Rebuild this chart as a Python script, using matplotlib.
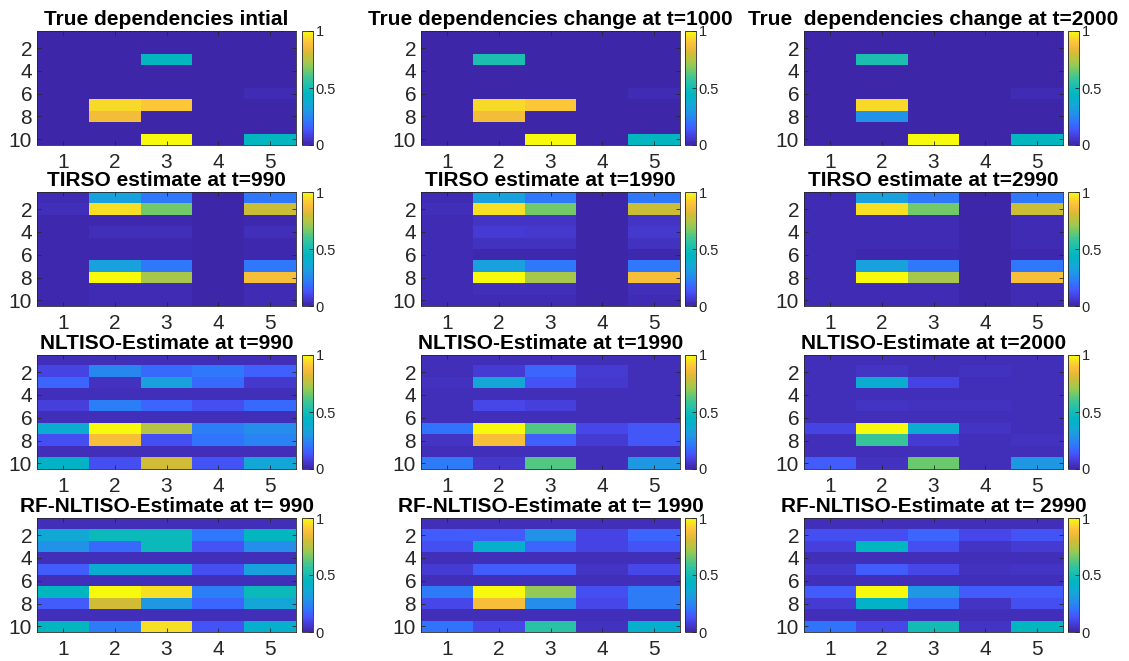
import numpy as np
import matplotlib
matplotlib.use("Agg")
import matplotlib.pyplot as plt
from matplotlib.colors import LinearSegmentedColormap

plt.rcParams['font.family'] = ['Liberation Sans', 'DejaVu Sans']

# parula-like colormap (MATLAB default)
parula_pts = [
    (0.00, (0.2422, 0.1504, 0.6603)),
    (0.05, (0.2691, 0.2113, 0.7795)),
    (0.10, (0.2803, 0.2782, 0.9221)),
    (0.15, (0.2586, 0.3641, 0.9904)),
    (0.20, (0.1900, 0.4550, 0.9930)),
    (0.25, (0.1560, 0.5300, 0.9400)),
    (0.30, (0.1200, 0.6000, 0.8900)),
    (0.35, (0.0800, 0.6550, 0.8450)),
    (0.40, (0.0250, 0.6900, 0.8000)),
    (0.45, (0.0100, 0.7150, 0.7550)),
    (0.50, (0.0700, 0.7400, 0.7150)),
    (0.55, (0.1630, 0.7620, 0.6530)),
    (0.60, (0.2600, 0.7750, 0.5700)),
    (0.65, (0.4200, 0.7900, 0.4300)),
    (0.70, (0.5800, 0.7900, 0.3400)),
    (0.75, (0.7100, 0.7700, 0.2700)),
    (0.80, (0.8200, 0.7400, 0.2100)),
    (0.85, (0.9300, 0.7300, 0.2200)),
    (0.90, (0.9950, 0.7600, 0.2300)),
    (0.95, (0.9700, 0.8700, 0.1500)),
    (1.00, (0.9763, 0.9831, 0.0538)),
]
parula = LinearSegmentedColormap.from_list('parula', parula_pts)

true_init = [
    [0, 0, 0, 0, 0],
    [0, 0, 0, 0, 0],
    [0, 0, 0.45, 0, 0],
    [0, 0, 0, 0, 0],
    [0, 0, 0, 0, 0],
    [0, 0, 0, 0, 0.02],
    [0, 0.94, 0.91, 0, 0],
    [0, 0.87, 0, 0, 0],
    [0, 0, 0, 0, 0],
    [0, 0, 1.0, 0, 0.45],
]
true_t1000 = [
    [0, 0, 0, 0, 0],
    [0, 0, 0, 0, 0],
    [0, 0.52, 0, 0, 0],
    [0, 0, 0, 0, 0],
    [0, 0, 0, 0, 0],
    [0, 0, 0, 0, 0.02],
    [0, 0.94, 0.91, 0, 0],
    [0, 0.87, 0, 0, 0],
    [0, 0, 0, 0, 0],
    [0, 0, 1.0, 0, 0.45],
]
true_t2000 = [
    [0, 0, 0, 0, 0],
    [0, 0, 0, 0, 0],
    [0, 0.52, 0, 0, 0],
    [0, 0, 0, 0, 0],
    [0, 0, 0, 0, 0],
    [0, 0, 0, 0, 0.02],
    [0, 0.94, 0, 0, 0],
    [0, 0.28, 0, 0, 0],
    [0, 0, 0, 0, 0],
    [0, 0, 1.0, 0, 0.45],
]
tirso_990 = [
    [0.02, 0.33, 0.21, 0.0, 0.21],
    [0.03, 0.95, 0.66, 0.0, 0.79],
    [0.01, 0.01, 0.01, 0.0, 0.01],
    [0.01, 0.03, 0.03, 0.0, 0.03],
    [0.01, 0.01, 0.01, 0.0, 0.01],
    [0.01, 0.01, 0.01, 0.0, 0.01],
    [0.01, 0.33, 0.21, 0.0, 0.21],
    [0.01, 1.0, 0.73, 0.0, 0.88],
    [0.01, 0.02, 0.02, 0.0, 0.02],
    [0.01, 0.02, 0.02, 0.0, 0.02],
]
tirso_1990 = [
    [0.02, 0.33, 0.21, 0.0, 0.21],
    [0.03, 0.95, 0.66, 0.0, 0.79],
    [0.02, 0.05, 0.05, 0.0, 0.05],
    [0.02, 0.07, 0.06, 0.0, 0.06],
    [0.02, 0.04, 0.04, 0.0, 0.04],
    [0.02, 0.01, 0.01, 0.0, 0.01],
    [0.02, 0.33, 0.21, 0.0, 0.21],
    [0.02, 1.0, 0.73, 0.0, 0.88],
    [0.02, 0.03, 0.03, 0.0, 0.03],
    [0.02, 0.02, 0.02, 0.0, 0.02],
]
tirso_2990 = [
    [0.02, 0.33, 0.21, 0.0, 0.21],
    [0.02, 0.95, 0.66, 0.0, 0.79],
    [0.02, 0.02, 0.02, 0.0, 0.02],
    [0.02, 0.02, 0.02, 0.0, 0.02],
    [0.02, 0.02, 0.02, 0.0, 0.02],
    [0.02, 0.01, 0.01, 0.0, 0.01],
    [0.02, 0.33, 0.21, 0.0, 0.21],
    [0.02, 1.0, 0.73, 0.0, 0.88],
    [0.02, 0.02, 0.02, 0.0, 0.02],
    [0.02, 0.02, 0.02, 0.0, 0.02],
]
nltiso_990 = [
    [0.03, 0.03, 0.03, 0.03, 0.03],
    [0.09, 0.25, 0.18, 0.21, 0.16],
    [0.17, 0.04, 0.33, 0.18, 0.06],
    [0.03, 0.03, 0.03, 0.03, 0.03],
    [0.08, 0.23, 0.17, 0.12, 0.18],
    [0.03, 0.03, 0.03, 0.03, 0.03],
    [0.38, 1.0, 0.75, 0.23, 0.27],
    [0.12, 0.88, 0.12, 0.20, 0.24],
    [0.03, 0.03, 0.03, 0.03, 0.03],
    [0.42, 0.12, 0.80, 0.13, 0.35],
]
nltiso_1990 = [
    [0.03, 0.03, 0.03, 0.03, 0.03],
    [0.03, 0.07, 0.17, 0.07, 0.03],
    [0.04, 0.35, 0.13, 0.06, 0.03],
    [0.03, 0.03, 0.03, 0.03, 0.03],
    [0.03, 0.10, 0.08, 0.03, 0.03],
    [0.03, 0.03, 0.03, 0.03, 0.03],
    [0.20, 1.0, 0.62, 0.10, 0.14],
    [0.05, 0.88, 0.16, 0.07, 0.14],
    [0.03, 0.03, 0.03, 0.03, 0.03],
    [0.22, 0.06, 0.62, 0.03, 0.30],
]
nltiso_2000 = [
    [0.03, 0.03, 0.03, 0.03, 0.03],
    [0.03, 0.05, 0.03, 0.04, 0.03],
    [0.03, 0.38, 0.09, 0.03, 0.03],
    [0.03, 0.03, 0.03, 0.03, 0.03],
    [0.03, 0.05, 0.04, 0.04, 0.03],
    [0.03, 0.03, 0.03, 0.03, 0.03],
    [0.09, 1.0, 0.38, 0.05, 0.03],
    [0.03, 0.58, 0.07, 0.03, 0.04],
    [0.03, 0.03, 0.03, 0.03, 0.03],
    [0.15, 0.04, 0.65, 0.03, 0.30],
]
rf_990 = [
    [0.03, 0.03, 0.03, 0.03, 0.03],
    [0.36, 0.48, 0.48, 0.21, 0.45],
    [0.28, 0.18, 0.48, 0.13, 0.27],
    [0.03, 0.03, 0.03, 0.03, 0.03],
    [0.15, 0.38, 0.38, 0.12, 0.33],
    [0.03, 0.03, 0.03, 0.03, 0.03],
    [0.45, 1.0, 0.95, 0.23, 0.48],
    [0.15, 0.80, 0.30, 0.17, 0.35],
    [0.03, 0.03, 0.03, 0.03, 0.03],
    [0.45, 0.22, 0.95, 0.13, 0.40],
]
rf_1990 = [
    [0.03, 0.03, 0.03, 0.03, 0.03],
    [0.15, 0.15, 0.28, 0.09, 0.17],
    [0.12, 0.40, 0.17, 0.09, 0.13],
    [0.03, 0.03, 0.03, 0.03, 0.03],
    [0.07, 0.15, 0.15, 0.05, 0.10],
    [0.03, 0.03, 0.03, 0.03, 0.03],
    [0.22, 1.0, 0.70, 0.12, 0.22],
    [0.10, 0.88, 0.27, 0.10, 0.22],
    [0.03, 0.03, 0.03, 0.03, 0.03],
    [0.20, 0.10, 0.55, 0.04, 0.40],
]
rf_2990 = [
    [0.03, 0.03, 0.03, 0.03, 0.03],
    [0.12, 0.12, 0.17, 0.10, 0.13],
    [0.08, 0.45, 0.12, 0.05, 0.07],
    [0.03, 0.03, 0.03, 0.03, 0.03],
    [0.06, 0.15, 0.10, 0.04, 0.05],
    [0.03, 0.03, 0.03, 0.03, 0.03],
    [0.15, 1.0, 0.30, 0.15, 0.15],
    [0.07, 0.42, 0.18, 0.05, 0.12],
    [0.03, 0.03, 0.03, 0.03, 0.03],
    [0.20, 0.10, 0.50, 0.05, 0.45],
]

panels = [
    [true_init, true_t1000, true_t2000],
    [tirso_990, tirso_1990, tirso_2990],
    [nltiso_990, nltiso_1990, nltiso_2000],
    [rf_990, rf_1990, rf_2990],
]
titles = [
    ['True dependencies intial', 'True dependencies change at t=1000', 'True  dependencies change at t=2000'],
    ['TIRSO estimate at t=990', 'TIRSO estimate at t=1990', 'TIRSO estimate at t=2990'],
    ['NLTISO-Estimate at t=990', 'NLTISO-Estimate at t=1990', 'NLTISO-Estimate at t=2000'],
    ['RF-NLTISO-Estimate at t= 990', 'RF-NLTISO-Estimate at t= 1990', 'RF-NLTISO-Estimate at t= 2990'],
]
x_ticks = [1, 2, 3, 4, 5]
y_ticks = [2, 4, 6, 8, 10]

W, H = 1129, 661
col_left = [37, 421, 804]
cbar_left = [302, 685, 1068]
row_top = [31, 192, 355, 518]
ax_w, ax_h, cb_w = 259, 114, 11
gray = (0.15, 0.15, 0.15)

fig = plt.figure(figsize=(W / 100, H / 100), dpi=100)

for r in range(4):
    for c in range(3):
        data = np.array(panels[r][c])
        ax = fig.add_axes([col_left[c] / W, 1 - (row_top[r] + ax_h) / H, ax_w / W, ax_h / H])
        im = ax.imshow(data, cmap=parula, vmin=0, vmax=1, aspect='auto',
                       interpolation='nearest',
                       extent=(0.5, data.shape[1] + 0.5, data.shape[0] + 0.5, 0.5))
        ax.set_xticks(x_ticks)
        ax.set_yticks(y_ticks)
        ax.tick_params(direction='in', top=True, right=True, length=3, width=0.6,
                       labelsize=15, colors=gray, labelcolor=gray)
        ax.tick_params(axis='x', pad=6)
        for s in ax.spines.values():
            s.set_color(gray)
            s.set_linewidth(0.6)
        # white box behind title hides the lower edge of the x labels above (as in the original)
        ax.set_title(titles[r][c], fontsize=15, fontweight='bold', pad=4.5,
                     bbox=dict(facecolor='white', edgecolor='none', pad=2))

        cax = fig.add_axes([cbar_left[c] / W, 1 - (row_top[r] + ax_h) / H, cb_w / W, ax_h / H])
        cb = fig.colorbar(im, cax=cax, ticks=[0, 0.5, 1])
        cb.ax.set_yticklabels(['0', '0.5', '1'])
        cb.ax.tick_params(direction='in', length=3, width=0.6, labelsize=10.5,
                          colors=gray, labelcolor=gray, pad=2)
        cb.outline.set_edgecolor(gray)
        cb.outline.set_linewidth(0.6)

fig.savefig('out.png', dpi=100)
